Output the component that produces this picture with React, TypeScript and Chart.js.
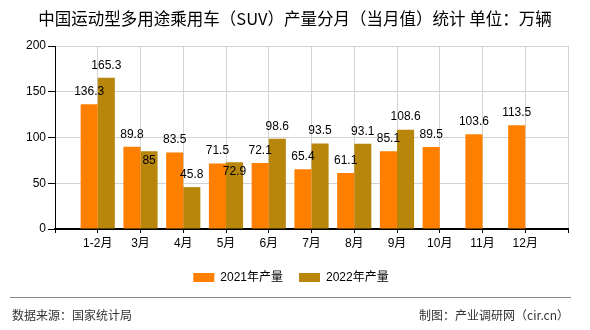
import React, { useEffect, useRef } from 'react';
import { Chart, registerables } from 'chart.js';

Chart.register(...registerables);

const titleText = '中国运动型多用途乘用车（SUV）产量分月（当月值）统计 单位：万辆';
const categories = ['1-2月', '3月', '4月', '5月', '6月', '7月', '8月', '9月', '10月', '11月', '12月'];
const values2021: (number | null)[] = [136.3, 89.8, 83.5, 71.5, 72.1, 65.4, 61.1, 85.1, 89.5, 103.6, 113.5];
const values2022: (number | null)[] = [165.3, 85, 45.8, 72.9, 98.6, 93.5, 93.1, 108.6, null, null, null];
const seriesNames = ['2021年产量', '2022年产量'];
const seriesColors = ['#FF8000', '#B8860B'];
const yMin = 0;
const yMax = 200;
const yStep = 50;
const sourceText = '数据来源：国家统计局';
const creditText = '制图：产业调研网（cir.cn）';

const FONT = "'Liberation Sans', 'Noto Sans CJK SC', sans-serif";
const CJK = "'Noto Sans CJK SC', 'Liberation Sans', sans-serif";

const overlay = {
  id: 'overlay',
  afterDatasetsDraw(chart: any) {
    const ctx = chart.ctx as CanvasRenderingContext2D;
    ctx.save();
    ctx.font = `12px ${FONT}`;
    ctx.fillStyle = '#000';
    ctx.textAlign = 'center';
    ctx.textBaseline = 'middle';
    const m0 = chart.getDatasetMeta(0);
    const m1 = chart.getDatasetMeta(1);
    const ds0 = chart.data.datasets[0].data;
    const ds1 = chart.data.datasets[1].data;
    for (let i = 0; i < ds0.length; i++) {
      let y0: number | null = null;
      let x0 = 0;
      let w0 = 0;
      if (ds0[i] != null) {
        const el = m0.data[i];
        const t = String(ds0[i]);
        y0 = el.y - 12.5;
        x0 = el.x;
        w0 = ctx.measureText(t).width;
        ctx.fillText(t, el.x, y0);
      }
      if (ds1[i] != null) {
        const el = m1.data[i];
        const t = String(ds1[i]);
        let y1 = el.y - 12.5;
        const w1 = ctx.measureText(t).width;
        if (y0 != null && Math.abs(y1 - y0) < 13 && Math.abs(el.x - x0) < (w0 + w1) / 2) {
          y1 = el.y + 9.5;
        }
        ctx.fillText(t, el.x, y1);
      }
    }
    ctx.restore();
  },
  afterDraw(chart: any) {
    const ctx = chart.ctx as CanvasRenderingContext2D;
    const W = chart.width;
    ctx.save();
    // title
    ctx.fillStyle = '#000';
    ctx.font = `16.5px ${CJK}`;
    ctx.textAlign = 'center';
    ctx.textBaseline = 'middle';
    ctx.fillText(titleText, W / 2, 19);

    // legend
    ctx.font = `12px ${FONT}`;
    ctx.textAlign = 'left';
    const sw = 21, sh = 9, gap = 6, itemGap = 16;
    const widths = seriesNames.map((n) => sw + gap + ctx.measureText(n).width);
    const total = widths.reduce((a, b) => a + b, 0) + itemGap * (widths.length - 1);
    let x = 291 - total / 2;
    const ly = 277.5;
    seriesNames.forEach((n, i) => {
      ctx.fillStyle = seriesColors[i];
      ctx.fillRect(x, ly - sh / 2, sw, sh);
      ctx.fillStyle = '#000';
      ctx.fillText(n, x + sw + gap, ly);
      x += widths[i] + itemGap;
    });

    // footer
    ctx.strokeStyle = '#888';
    ctx.lineWidth = 1;
    ctx.beginPath();
    ctx.moveTo(10, 297.5);
    ctx.lineTo(571, 297.5);
    ctx.stroke();
    ctx.fillStyle = '#333';
    ctx.font = `12px ${CJK}`;
    ctx.textAlign = 'left';
    ctx.fillText(sourceText, 12, 315);
    ctx.textAlign = 'right';
    ctx.fillText(creditText, 569, 315);
    ctx.restore();
  },
};

export default function App() {
  const ref = useRef<HTMLCanvasElement | null>(null);
  useEffect(() => {
    if (!ref.current) return;
    const labels = ['', ...categories, ''];
    const chart = new Chart(ref.current, {
      type: 'bar',
      data: {
        labels,
        datasets: [
          {
            label: seriesNames[0],
            data: [null, ...values2021, null],
            backgroundColor: seriesColors[0],
            categoryPercentage: 0.8,
            barPercentage: 1,
          },
          {
            label: seriesNames[1],
            data: [null, ...values2022, null],
            backgroundColor: seriesColors[1],
            categoryPercentage: 0.8,
            barPercentage: 1,
          },
        ],
      },
      options: {
        responsive: false,
        animation: false,
        layout: { padding: { left: 0, right: 22, top: 46, bottom: 71 } },
        plugins: {
          legend: { display: false },
          title: { display: false },
          tooltip: { enabled: false },
        },
        scales: {
          x: {
            type: 'category',
            offset: false,
            grid: {
              offset: false,
              color: '#d3d3d3',
              tickColor: '#000',
              tickLength: 4,
              drawOnChartArea: true,
            },
            border: { color: '#000', width: 2 },
            ticks: {
              autoSkip: false,
              maxRotation: 0,
              color: '#000',
              padding: 3,
              font: { size: 12, family: FONT },
            },
            afterFit(scale: any) {
              scale.height = 30;
            },
          },
          y: {
            min: yMin,
            max: yMax,
            grid: {
              color: '#d3d3d3',
              tickColor: '#000',
              tickLength: 7,
            },
            border: { color: '#000', width: 1 },
            ticks: {
              stepSize: yStep,
              color: '#000',
              padding: 2,
              font: { size: 12, family: FONT },
            },
            afterFit(scale: any) {
              scale.width = 55;
            },
          },
        },
      },
      plugins: [overlay],
    });
    return () => chart.destroy();
  }, []);
  return (
    <div style={{ position: 'absolute', left: 0, top: 0, width: 590, height: 330, background: '#fff' }}>
      <canvas ref={ref} width={590} height={330} style={{ display: 'block' }} />
    </div>
  );
}
